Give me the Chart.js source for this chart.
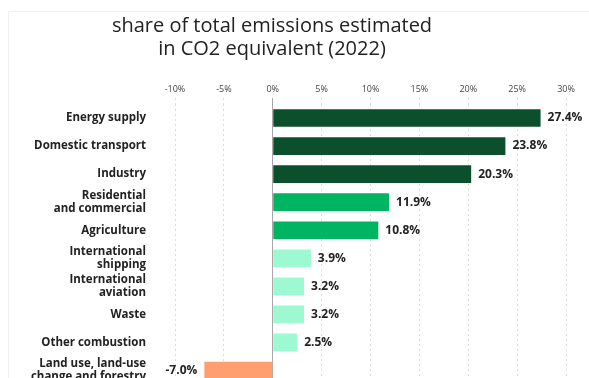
<!DOCTYPE html>
<html>
<head>
<meta charset="utf-8">
<script src="https://cdn.jsdelivr.net/npm/chart.js@4"></script>
<style>
  html, body { margin: 0; padding: 0; background: #fff; overflow: hidden; }
  #frame { position: absolute; left: 8px; top: 11px; width: 640px; height: 440px; border: 1px solid #f1f1f1; }
  #wrap { position: absolute; left: 0; top: 0; width: 589px; height: 420px; }
</style>
</head>
<body>
<div id="frame"></div>
<div id="wrap"><canvas id="c" width="589" height="420"></canvas></div>
<script>
const titleLines = ["share of total emissions estimated", "in CO2 equivalent (2022)"];
const categories = [
  "Energy supply",
  "Domestic transport",
  "Industry",
  ["Residential", "and commercial"],
  "Agriculture",
  ["International", "shipping"],
  ["International", "aviation"],
  "Waste",
  "Other combustion",
  ["Land use, land-use", "change and forestry"]
];
const shares = [27.4, 23.8, 20.3, 11.9, 10.8, 3.9, 3.2, 3.2, 2.5, -7.0];
const barColors = [
  "#0b4f2c", "#0b4f2c", "#0b4f2c",
  "#00b562", "#00b562",
  "#9cf9d1", "#9cf9d1", "#9cf9d1", "#9cf9d1",
  "#ff9f6f"
];
const xMin = -10, xMax = 30, xStep = 5;

const valueLabels = {
  id: 'valueLabels',
  afterDatasetsDraw(chart) {
    const ctx = chart.ctx;
    const meta = chart.getDatasetMeta(0);
    ctx.save();
    ctx.font = "bold 12px 'Open Sans', sans-serif";
    ctx.fillStyle = "#222";
    ctx.textBaseline = "middle";
    meta.data.forEach((bar, i) => {
      const v = shares[i];
      const txt = v.toFixed(1) + "%";
      if (v >= 0) { ctx.textAlign = "left"; ctx.fillText(txt, bar.x + 7, bar.y); }
      else { ctx.textAlign = "right"; ctx.fillText(txt, bar.x - 7, bar.y); }
    });
    ctx.restore();
  }
};

const titleShift = {
  id: 'titleShift',
  afterLayout(chart) {
    if (chart.titleBlock) { chart.titleBlock.left = 8; chart.titleBlock.right = 536; }
  }
};

new Chart(document.getElementById('c'), {
  type: 'bar',
  data: {
    labels: categories,
    datasets: [{
      data: shares,
      backgroundColor: barColors,
      borderWidth: 0,
      categoryPercentage: 1,
      barPercentage: 0.63
    }]
  },
  plugins: [valueLabels, titleShift],
  options: {
    indexAxis: 'y',
    responsive: false,
    animation: false,
    layout: { padding: { left: 0, right: 23, top: 0, bottom: 20 } },
    plugins: {
      legend: { display: false },
      tooltip: { enabled: false },
      title: {
        display: true,
        text: titleLines,
        color: "#222",
        font: { family: "'Open Sans', sans-serif", size: 20, weight: 500, lineHeight: 1.18 },
        padding: { top: 14, bottom: 20 }
      }
    },
    scales: {
      x: {
        position: 'top',
        min: xMin,
        max: xMax,
        ticks: {
          stepSize: xStep,
          padding: 3,
          color: "#444",
          font: { family: "'Open Sans', sans-serif", size: 9 },
          callback: (v) => v + "%"
        },
        grid: {
          color: (c) => (c.tick && c.tick.value === 0) ? "#a8a8a8" : "#dcdcdc",
          tickColor: (c) => (c.tick && c.tick.value === 0) ? "#a8a8a8" : "#dcdcdc",
          lineWidth: 1,
          tickLength: 6,
          tickBorderDash: (c) => (c.tick && c.tick.value === 0) ? [] : [2, 3]
        },
        border: {
          display: false,
          dash: (c) => (c.tick && c.tick.value === 0) ? [] : [2, 3]
        }
      },
      y: {
        afterFit: (axis) => { axis.width = 175; },
        ticks: {
          autoSkip: false,
          padding: 29,
          color: "#222",
          font: { family: "'Open Sans', sans-serif", size: 11.5, weight: 'bold', lineHeight: 1.13 }
        },
        grid: { display: false, drawTicks: false },
        border: { display: false }
      }
    }
  }
});
</script>
</body>
</html>
